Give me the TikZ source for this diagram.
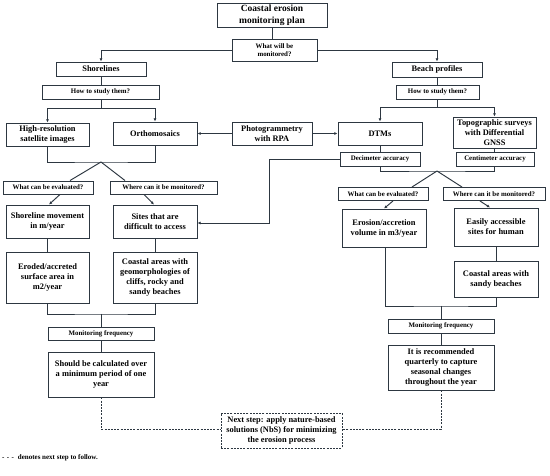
\documentclass[tikz,border=0pt]{standalone}
\usepackage{fontspec}
\setmainfont{Liberation Serif}
\usetikzlibrary{arrows.meta,calc}
\definecolor{lc}{RGB}{45,55,65}
\tikzset{
  box/.style={draw=lc, line width=0.95pt, fill=white, inner sep=0pt, align=center,
    font=\fontsize{8.4}{10}\selectfont\bfseries},
  sbox/.style={box, font=\fontsize{6.9}{8}\selectfont\bfseries},
  tbox/.style={box, font=\fontsize{9.5}{12}\selectfont\bfseries},
  dbox/.style={box, draw=lc, dash pattern=on 2pt off 1.2pt},
  conn/.style={draw=lc, line width=0.95pt},
  arr/.style={conn, -{Latex[length=3.2pt,width=3pt]}},
  dconn/.style={conn, dash pattern=on 2pt off 1.2pt}
}
\begin{document}
\begin{tikzpicture}[x=1pt,y=-1pt]
\useasboundingbox[fill=white] (0,0) rectangle (550,476);
% nodes
\node[tbox, minimum width=110pt, minimum height=24pt] (title) at (272,15) {Coastal erosion\\monitoring plan};
\node[sbox, minimum width=85pt, minimum height=22pt] (q1) at (274.5,50) {What will be\\monitored?};
\node[box, minimum width=90pt, minimum height=14pt] (shore) at (101,69) {Shorelines};
\node[box, minimum width=90pt, minimum height=15pt] (beach) at (437,69.5) {Beach profiles};
\node[sbox, minimum width=117pt, minimum height=14pt] (howL) at (100.5,92) {How to study them?};
\node[sbox, minimum width=83pt, minimum height=14pt] (howR) at (437.5,92) {How to study them?};
\node[box, minimum width=83pt, minimum height=23pt] (hires) at (47.5,134.5) {High-resolution\\satellite images};
\node[box, minimum width=84pt, minimum height=23pt] (ortho) at (155,133.5) {Orthomosaics};
\node[box, minimum width=80pt, minimum height=23pt] (photo) at (272,133.5) {Photogrammetry\\with RPA};
\node[box, minimum width=84pt, minimum height=23pt] (dtm) at (380,133.5) {DTMs};
\node[box, minimum width=83pt, minimum height=31pt] (topo) at (494.5,132.5) {Topographic surveys\\with Differential\\GNSS};
\node[sbox, minimum width=80pt, minimum height=14pt] (deci) at (380,159) {Decimeter accuracy};
\node[sbox, minimum width=78pt, minimum height=14pt] (centi) at (495,159) {Centimeter accuracy};
\node[sbox, minimum width=90pt, minimum height=13pt] (whatL) at (48,187.5) {What can be evaluated?};
\node[sbox, minimum width=107pt, minimum height=13pt] (whereL) at (163.5,187.5) {Where can it be monitored?};
\node[sbox, minimum width=90pt, minimum height=13pt] (whatR) at (383,194) {What can be evaluated?};
\node[sbox, minimum width=102pt, minimum height=13pt] (whereR) at (494,194) {Where can it be monitored?};
\node[box, minimum width=83pt, minimum height=33pt] (shoremv) at (47.5,221.5) {Shoreline movement\\in m/year};
\node[box, minimum width=84pt, minimum height=33pt] (sites) at (155,221.5) {Sites that are\\difficult to access};
\node[box, minimum width=83pt, minimum height=51pt] (eroded) at (47.5,277.5) {Eroded/accreted\\surface area in\\m2/year};
\node[box, minimum width=84pt, minimum height=51pt] (coastL) at (155,277.5) {Coastal areas with\\geomorphologies of\\cliffs, rocky and\\sandy beaches};
\node[box, minimum width=84pt, minimum height=38pt] (erosion) at (384,228) {Erosion/accretion\\volume in m3/year};
\node[box, minimum width=84pt, minimum height=38pt] (easy) at (496,227) {Easily accessible\\sites for human};
\node[box, minimum width=84pt, minimum height=36pt] (coastR) at (496,279) {Coastal areas with\\sandy beaches};
\node[sbox, minimum width=106pt, minimum height=13pt] (monL) at (101,333.5) {Monitoring frequency};
\node[sbox, minimum width=106pt, minimum height=14pt] (monR) at (441,326) {Monitoring frequency};
\node[box, minimum width=106pt, minimum height=45pt] (resL) at (101,374.5) {Should be calculated over\\a minimum period of one\\year};
\node[box, minimum width=106pt, minimum height=45pt] (resR) at (441,367.5) {It is recommended\\quarterly to capture\\seasonal changes\\throughout the year};
\node[dbox, minimum width=121pt, minimum height=35pt] (next) at (281.5,430.5) {Next step: apply nature-based\\solutions (NbS) for minimizing\\the erosion process};
\node[anchor=west, inner sep=0pt, font=\fontsize{7}{8}\selectfont\bfseries] (legend) at (2,458) {-\,\,-\,\,-\,\, denotes next step to follow.};
% coordinates
\coordinate (jL) at (101,108);
\coordinate (jR) at (437,107);
\coordinate (bendA) at (269,159);
\coordinate (bL) at (101,162);
\coordinate (bR) at (437,171);
\coordinate (bL2) at (101,314);
\coordinate (bR2) at (441,306);
% connectors
\draw[conn] (title.south) -- (title.south |- q1.north);
\draw[arr] (q1.west) -| (shore.north);
\draw[arr] (q1.east) -| (beach.north);
\draw[conn] (shore.south) -- (howL.north -| shore.south);
\draw[conn] (beach.south) -- (howR.north -| beach.south);
\draw[conn] (howL.south -| jL) -- (jL);
\draw[arr] (jL) -| (hires.north);
\draw[arr] (jL) -| (ortho.north);
\draw[conn] (howR.south -| jR) -- (jR);
\draw[arr] (jR) -| (dtm.north);
\draw[arr] (jR) -| (topo.north);
\draw[arr] (photo.west) -- (ortho.east);
\draw[arr] (photo.east) -- (dtm.west);
\draw[conn] (dtm.south) -- (deci.north);
\draw[conn] (topo.south) -- (topo.south |- centi.north);
\draw[arr] (deci.west) -- (bendA) |- ([yshift=-1.5pt]sites.east);
\draw[conn] (hires.south) |- (bL) -| (ortho.south);
\draw[conn] (bL) -- ([xshift=22pt]whatL.north);
\draw[conn] (bL) -- ([xshift=-38.5pt]whereL.north);
\draw[arr] ([xshift=12pt]whatL.south) -- ([xshift=1.5pt]shoremv.north);
\draw[arr] ([xshift=-19.5pt]whereL.south) -- ([xshift=-1pt]sites.north);
\draw[conn] (deci.south) |- (bR) -| (topo.south |- centi.south);
\draw[conn] (bR) -- ([xshift=29pt]whatR.north);
\draw[conn] (bR) -- ([xshift=-32pt]whereR.north);
\draw[arr] ([xshift=10pt]whatR.south) -- (erosion.north);
\draw[arr] ([xshift=-14pt]whereR.south) -- ([xshift=-6pt]easy.north);
\draw[conn] (shoremv.south) -- (eroded.north);
\draw[conn] (sites.south) -- (coastL.north);
\draw[conn] (easy.south) -- (coastR.north);
\draw[conn] (eroded.south) |- (bL2) -| (coastL.south);
\draw[conn] (bL2) -- (monL.north);
\draw[conn] (monL.south) -- (resL.north);
\draw[conn] ([xshift=1pt]erosion.south) |- (bR2) -| (coastR.south);
\draw[conn] (bR2) -- (monR.north);
\draw[conn] (monR.south) -- (resR.north);
\draw[dconn] (resL.south) |- ([yshift=1.5pt]next.west);
\draw[dconn] (resR.south) |- ([yshift=1.5pt]next.east);
\end{tikzpicture}
\end{document}
